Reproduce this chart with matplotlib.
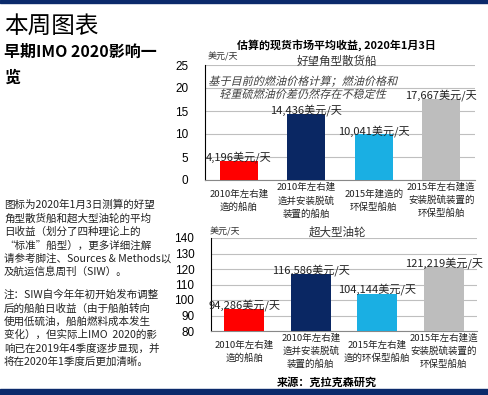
import matplotlib.pyplot as plt
import numpy as np
from matplotlib.textpath import TextPath
from matplotlib.patches import PathPatch
from matplotlib.font_manager import FontProperties
from matplotlib.transforms import Affine2D, IdentityTransform

plt.rcParams['font.family'] = ['Noto Sans CJK SC', 'DejaVu Sans']

# Data
cape_labels = [
    "2010年左右建\n造的船舶",
    "2010年左右建\n造并安装脱硫\n装置的船舶",
    "2015年建造的\n环保型船舶",
    "2015年左右建造\n安装脱硫装置的\n环保型船舶",
]
vlcc_labels = [
    "2010年左右建\n造的船舶",
    "2010年左右建\n造并安装脱硫\n装置的船舶",
    "2015年左右建\n造的环保型船舶",
    "2015年左右建造\n安装脱硫装置的\n环保型船舶",
]
cape_values = [4196, 14436, 10041, 17667]
vlcc_values = [94286, 116586, 104144, 121219]
bar_colors = ["#FF0000", "#0A2763", "#1AAFE3", "#BDBDBD"]

note_lines = ["基于目前的燃油价格计算；燃油价格和", "轻重硫燃油价差仍然存在不稳定性"]

para1 = [
    "图标为2020年1月3日测算的好望",
    "角型散货船和超大型油轮的平均",
    "日收益（划分了四种理论上的",
    "“标准”船型），更多详细注解",
    "请参考脚注、Sources & Methods以",
    "及航运信息周刊（SIW）。",
]
para2 = [
    "注：SIW自今年年初开始发布调整",
    "后的船舶日收益（由于船舶转向",
    "使用低硫油，船舶燃料成本发生",
    "变化），但实际上IMO  2020的影",
    "响已在2019年4季度逐步显现，并",
    "将在2020年1季度后更加清晰。",
]

W, H = 489, 395
fig = plt.figure(figsize=(W / 100, H / 100), dpi=100)
fig.patch.set_facecolor("white")


def fx(px):
    return px / W


def fy(py):
    return 1 - py / H


# navy bands top and bottom
fig.patches.append(plt.Rectangle((0, fy(3)), 1, 3 / H, transform=fig.transFigure,
                                 color="#0B2A6B", zorder=0))
fig.patches.append(plt.Rectangle((0, 0), 1, 6 / H, transform=fig.transFigure,
                                 color="#0B2A6B", zorder=0))

# left text
fig.text(fx(4), fy(26), "本周图表", fontsize=17, fontweight="light", va="center")
fig.text(fx(4), fy(52), "早期IMO 2020影响一", fontsize=11.5, fontweight="bold", va="center")
fig.text(fx(4), fy(78), "览", fontsize=11.5, fontweight="bold", va="center")
for i, line in enumerate(para1):
    fig.text(fx(4), fy(205 + i * 13.4), line, fontsize=7.6, va="center", color="#222222")
for i, line in enumerate(para2):
    fig.text(fx(4), fy(295 + i * 13.4), line, fontsize=7.6, va="center", color="#222222")


def draw_panel(rect, values, labels, ylim, yticks, scale, bw, label_y, label_off):
    ax = fig.add_axes(rect)
    x = np.arange(len(values))
    vals = np.array(values) / scale
    ax.bar(x, vals, bw, color=bar_colors, zorder=3)
    ax.set_xlim(-0.5, 3.5)
    ax.set_ylim(*ylim)
    ax.set_yticks(yticks)
    ax.set_yticklabels([str(t) for t in yticks], family="Liberation Sans", fontsize=8.5)
    ax.set_xticks([])
    ax.tick_params(axis="y", length=0, pad=12)
    ax.grid(axis="y", color="#BFBFBF", linewidth=0.8, zorder=0)
    for s in ["top", "right"]:
        ax.spines[s].set_visible(False)
    ax.spines["left"].set_color("black")
    ax.spines["bottom"].set_color("#888888")
    for xi, v, raw in zip(x, vals, values):
        ax.text(xi, v - label_off, f"{raw:,}美元/天", ha="center", va="bottom",
                fontsize=8, color="#222222", zorder=4)
    for xi, lab in zip(x, labels):
        ax.text(xi, label_y, lab, transform=ax.get_xaxis_transform(), ha="center",
                va="center", fontsize=6.8, linespacing=1.45, color="#222222")
    return ax


ax1 = draw_panel([fx(205), fy(180), fx(270), 115 / H], cape_values, cape_labels,
                 (0, 25), [0, 5, 10, 15, 20, 25], 1000, 0.56, -0.18, 0.6)
ax2 = draw_panel([fx(211), fy(331), fx(266), 93 / H], vlcc_values, vlcc_labels,
                 (80, 140), [80, 90, 100, 110, 120, 130, 140], 1000, 0.6, -0.22, 1.2)

# titles and units
fig.text(fx(336), fy(45), "估算的现货市场平均收益, 2020年1月3日", ha="center", va="center",
         fontsize=7.9, fontweight="bold")
fig.text(fx(337), fy(61), "好望角型散货船", ha="center", va="center", fontsize=8.3,
         color="#333333")
fig.text(fx(208), fy(57), "美元/天", ha="left", va="center", fontsize=6.5, color="#333333")

# italic (skewed) note inside the top chart
prop = FontProperties(family="Noto Sans CJK SC", size=8)
for i, line in enumerate(note_lines):
    tp = TextPath((0, 0), line, prop=prop)
    bb = tp.get_extents()
    cx = 302 - bb.width * 100 / 72 / 2
    cy = H - (85 + i * 13)
    tr = Affine2D().skew_deg(14, 0).scale(100 / 72).translate(cx, cy)
    patch = PathPatch(tr.transform_path(tp), facecolor="#404040", edgecolor="none",
                      transform=IdentityTransform())
    fig.patches.append(patch)

fig.text(fx(337), fy(232), "超大型油轮", ha="center", va="center", fontsize=8.3,
         color="#333333")
fig.text(fx(210), fy(232), "美元/天", ha="left", va="center", fontsize=6.5, color="#333333")

fig.text(fx(327), fy(382), "来源：克拉克森研究", ha="center", va="center", fontsize=8,
         fontweight="bold")

plt.savefig("out.png", dpi=100)
